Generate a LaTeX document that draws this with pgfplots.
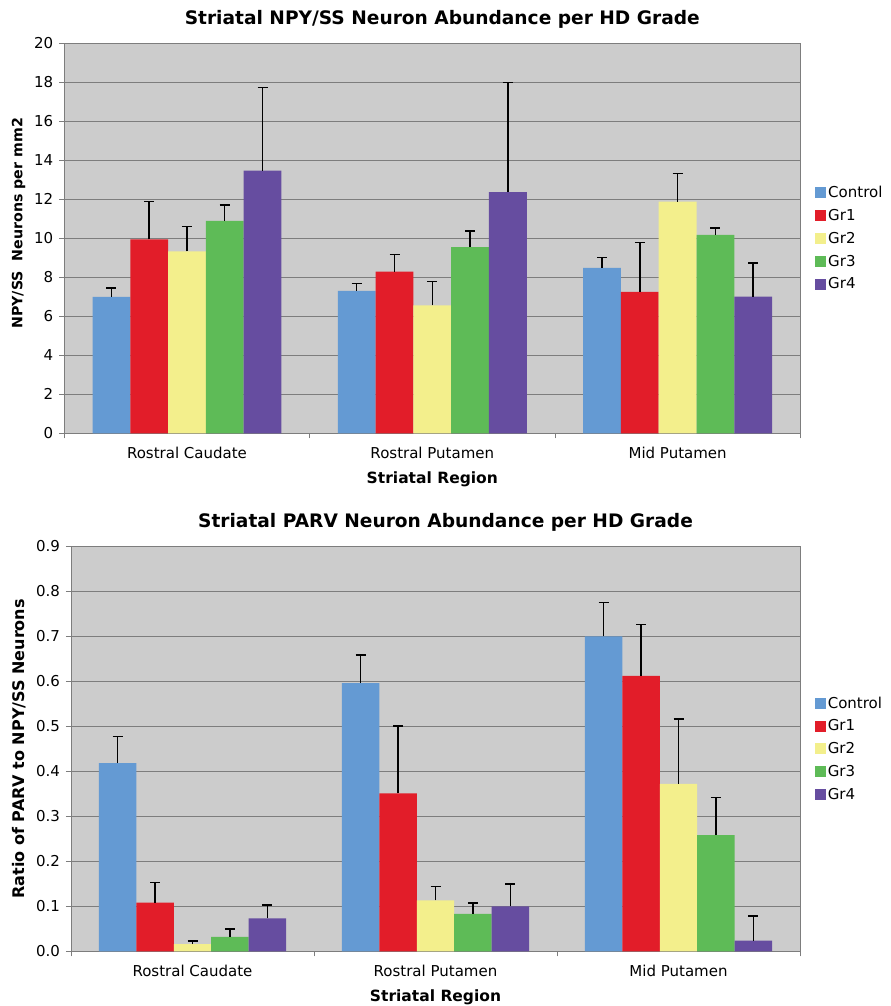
\documentclass[border=0pt]{standalone}
\usepackage{fontspec}
\setmainfont{DejaVu Sans}
\usepackage{pgfplots}
\pgfplotsset{compat=1.18}
\definecolor{cctrl}{RGB}{100,154,211}
\definecolor{cgr1}{RGB}{226,29,41}
\definecolor{cgr2}{RGB}{243,239,140}
\definecolor{cgr3}{RGB}{94,187,87}
\definecolor{cgr4}{RGB}{102,77,160}
\definecolor{bgc}{RGB}{204,204,204}
\definecolor{gridc}{RGB}{125,125,125}
\pgfplotsset{
  sqlegend/.style={legend image code/.code={\fill[##1] (0bp,-5.5bp) rectangle (11bp,5.5bp);}},
  mystyle/.style={
    scale only axis,
    ybar=0pt,
    bar width=0.154,
    xmin=-0.5, xmax=2.5,
    ymin=0,
    xtick={0,1,2},
    xticklabels={Rostral Caudate, Rostral Putamen, Mid Putamen},
    minor xtick={-0.5,0.5,1.5,2.5},
    major x tick style={draw=none},
    xtick pos=bottom, ytick pos=left,
    tick align=outside,
    major tick length=5bp, minor tick length=5bp,
    tick style={gridc, line width=0.8bp},
    ymajorgrids, major grid style={gridc, line width=0.8bp},
    axis background/.style={fill=bgc},
    axis line style={gridc, line width=0.8bp},
    tick label style={font=\fontsize{15bp}{18bp}\selectfont},
    yticklabel style={xshift=-2.5bp},
    xticklabel style={yshift=-5bp},
    /pgf/number format/assume math mode=true,
    xlabel style={font=\fontsize{15.5bp}{18bp}\selectfont\bfseries, yshift=-6bp},
    title style={font=\fontsize{18.6bp}{22bp}\selectfont\bfseries, xshift=10bp, yshift=5.5bp},
    legend style={draw=none, fill=white, at={(1.02,0.5)}, anchor=west,
      font=\fontsize{15bp}{18bp}\selectfont, row sep=6.2bp, inner sep=0pt},
    legend cell align=left,
    error bars/y dir=plus, error bars/y explicit,
    error bars/error bar style={draw=black, line width=1.5bp},
    error bars/error mark options={draw=black, line width=1.5bp, mark size=5bp, rotate=90},
    enlarge x limits=false,
  }
}
\begin{document}
\begin{tikzpicture}
\path[use as bounding box] (0,0) rectangle (891bp,-1006bp);
% Top panel
\begin{axis}[mystyle,
  at={(64.3bp,-433.3bp)}, anchor=south west,
  width=736bp, height=390bp,
  ymax=20, ytick={0,2,...,20},
  title={Striatal NPY/SS Neuron Abundance per HD Grade},
  xlabel={Striatal Region},
  ylabel={NPY/SS\ \ Neurons per mm2},
  ylabel style={font=\fontsize{14.2bp}{17bp}\selectfont\bfseries, xshift=15bp, yshift=2bp},
]
\addplot+[fill=cctrl, draw=none, sqlegend] coordinates {(0,7.0) +- (0,0.45) (1,7.30) +- (0,0.37) (2,8.48) +- (0,0.54)};
\addplot+[fill=cgr1, draw=none, sqlegend] coordinates {(0,9.95) +- (0,1.95) (1,8.29) +- (0,0.89) (2,7.25) +- (0,2.54)};
\addplot+[fill=cgr2, draw=none, sqlegend] coordinates {(0,9.33) +- (0,1.27) (1,6.56) +- (0,1.23) (2,11.88) +- (0,1.45)};
\addplot+[fill=cgr3, draw=none, sqlegend] coordinates {(0,10.9) +- (0,0.8) (1,9.55) +- (0,0.82) (2,10.17) +- (0,0.36)};
\addplot+[fill=cgr4, draw=none, sqlegend] coordinates {(0,13.47) +- (0,4.27) (1,12.37) +- (0,5.63) (2,7.01) +- (0,1.72)};
\legend{Control,Gr1,Gr2,Gr3,Gr4}
\end{axis}
% Bottom panel
\begin{axis}[mystyle,
  at={(71bp,-951.3bp)}, anchor=south west,
  width=729bp, height=405bp,
  ymax=0.9, ytick={0,0.1,...,0.9},
  yticklabel style={/pgf/number format/.cd, fixed, fixed zerofill, precision=1},
  title={Striatal PARV Neuron Abundance per HD Grade},
  xlabel={Striatal Region},
  ylabel={Ratio of PARV to NPY/SS Neurons},
  ylabel style={font=\fontsize{16bp}{19bp}\selectfont\bfseries, yshift=3bp},
]
\addplot+[fill=cctrl, draw=none, sqlegend] coordinates {(0,0.418) +- (0,0.059) (1,0.596) +- (0,0.062) (2,0.700) +- (0,0.075)};
\addplot+[fill=cgr1, draw=none, sqlegend] coordinates {(0,0.108) +- (0,0.045) (1,0.351) +- (0,0.150) (2,0.612) +- (0,0.114)};
\addplot+[fill=cgr2, draw=none, sqlegend] coordinates {(0,0.016) +- (0,0.007) (1,0.113) +- (0,0.031) (2,0.372) +- (0,0.144)};
\addplot+[fill=cgr3, draw=none, sqlegend] coordinates {(0,0.032) +- (0,0.018) (1,0.083) +- (0,0.024) (2,0.258) +- (0,0.084)};
\addplot+[fill=cgr4, draw=none, sqlegend] coordinates {(0,0.073) +- (0,0.030) (1,0.100) +- (0,0.050) (2,0.024) +- (0,0.055)};
\legend{Control,Gr1,Gr2,Gr3,Gr4}
\end{axis}
\end{tikzpicture}
\end{document}
